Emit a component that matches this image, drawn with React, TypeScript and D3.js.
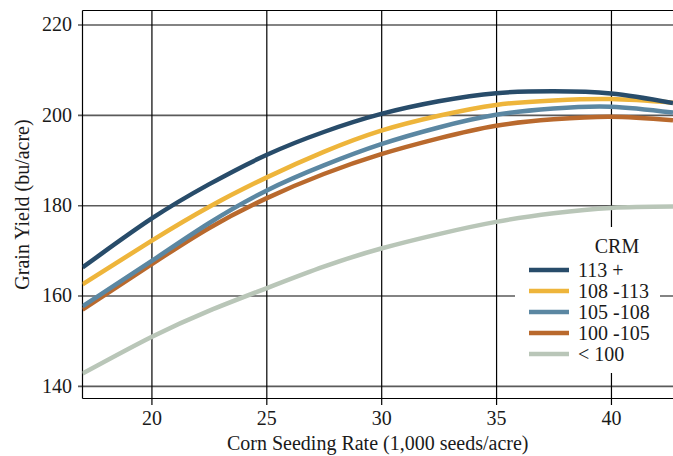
import React, { useRef, useEffect } from "react";
import * as d3 from "d3";

// seeding rate (1,000 seeds/acre) at which the yields were read
const seedRates = [17, 20, 22.5, 25, 27.5, 30, 32.5, 35, 37.5, 40, 42.7];

const crm113plus = [166.2, 177.0, 184.6, 191.1, 196.2, 200.2, 203.0, 204.8, 205.2, 204.7, 202.6];
const crm108to113 = [162.5, 172.1, 179.6, 186.1, 191.8, 196.5, 199.8, 202.2, 203.2, 203.5, 202.7];
const crm105to108 = [157.6, 167.6, 176.0, 183.2, 188.8, 193.5, 197.2, 200.0, 201.4, 201.8, 200.5];
const crm100to105 = [156.9, 166.9, 174.9, 181.5, 186.9, 191.3, 194.8, 197.6, 199.0, 199.6, 198.8];
const crmUnder100 = [142.7, 150.8, 156.6, 161.6, 166.4, 170.4, 173.6, 176.3, 178.2, 179.4, 179.7];

const seriesNames = ["113 +", "108 -113", "105 -108", "100 -105", "< 100"];
const seriesColors = ["#284c6a", "#eeb53b", "#5b87a2", "#b9692d", "#b9c6b8"];

const xTicks = [20, 25, 30, 35, 40];
const yTicks = [140, 160, 180, 200, 220];

const FONT = "'Liberation Serif', 'DejaVu Serif', serif";

const App = () => {
  const svgRef = useRef<SVGSVGElement>(null);

  useEffect(() => {
    const width = 673;
    const height = 456;
    const left = 82.5;
    const right = 673;
    const top = 10.5;
    const bottom = 398.5;

    const svg = d3.select(svgRef.current);
    svg.selectAll("*").remove();

    const x = d3.scaleLinear().domain([17, 42.7]).range([left, right]);
    const y = d3.scaleLinear().domain([137.2, 223.1]).range([bottom, top]);

    svg.append("clipPath").attr("id", "plot-clip")
      .append("rect")
      .attr("x", left).attr("y", top)
      .attr("width", right - left).attr("height", bottom - top);

    // horizontal grid + y labels
    svg.append("g")
      .attr("transform", `translate(${right},0)`)
      .call(d3.axisLeft(y).tickValues(yTicks).tickSize(right - 78).tickPadding(6))
      .call(g => g.select(".domain").remove())
      .call(g => g.selectAll(".tick line").attr("stroke", "#5a5a5a").attr("stroke-width", 1.6))
      .attr("font-family", FONT)
      .attr("font-size", 20)
      .call(g => g.selectAll("text").attr("fill", "#1a1a1a"));

    // vertical grid + x labels
    svg.append("g")
      .attr("transform", `translate(0,${top})`)
      .call(d3.axisBottom(x).tickValues(xTicks).tickSize(405 - top).tickPadding(6))
      .call(g => g.select(".domain").remove())
      .call(g => g.selectAll(".tick line").attr("stroke", "#000").attr("stroke-width", 1.2))
      .attr("font-family", FONT)
      .attr("font-size", 20)
      .call(g => g.selectAll("text").attr("fill", "#1a1a1a"));

    // frame
    const frame = svg.append("g").attr("stroke", "#000").attr("stroke-width", 1.2);
    frame.append("line").attr("x1", left).attr("x2", left).attr("y1", top).attr("y2", bottom);
    frame.append("line").attr("x1", left).attr("x2", right).attr("y1", top).attr("y2", top);
    frame.append("line").attr("x1", left).attr("x2", right).attr("y1", bottom).attr("y2", bottom);

    const allSeries = [crm113plus, crm108to113, crm105to108, crm100to105, crmUnder100];

    const line = d3.line<number>()
      .x((_, i) => x(seedRates[i]))
      .y(d => y(d))
      .curve(d3.curveNatural);

    svg.append("g")
      .attr("clip-path", "url(#plot-clip)")
      .selectAll("path")
      .data(allSeries.map((values, i) => ({ values, i })).reverse())
      .join("path")
      .attr("fill", "none")
      .attr("stroke", d => seriesColors[d.i])
      .attr("stroke-width", 4.5)
      .attr("d", d => line(d.values));

    // legend
    const legend = svg.append("g");
    legend.append("rect")
      .attr("x", 515).attr("y", 227)
      .attr("width", 145).attr("height", 146)
      .attr("fill", "#fff");
    legend.append("text")
      .attr("x", 617).attr("y", 253)
      .attr("text-anchor", "middle")
      .attr("font-family", FONT).attr("font-size", 20)
      .attr("fill", "#1a1a1a")
      .text("CRM");
    const items = legend.selectAll("g.item")
      .data(seriesNames)
      .join("g")
      .attr("class", "item")
      .attr("transform", (_, i) => `translate(0,${270 + i * 21})`);
    items.append("line")
      .attr("x1", 529).attr("x2", 569)
      .attr("stroke", (_, i) => seriesColors[i])
      .attr("stroke-width", 4.5);
    items.append("text")
      .attr("x", 578).attr("dy", "0.33em")
      .attr("font-family", FONT).attr("font-size", 20)
      .attr("fill", "#1a1a1a")
      .text(d => d);

    // axis titles
    svg.append("text")
      .attr("x", (left + right) / 2).attr("y", 450)
      .attr("text-anchor", "middle")
      .attr("font-family", FONT).attr("font-size", 20)
      .attr("fill", "#1a1a1a")
      .text("Corn Seeding Rate (1,000 seeds/acre)");
    svg.append("text")
      .attr("transform", `translate(29,${(top + bottom) / 2}) rotate(-90)`)
      .attr("text-anchor", "middle")
      .attr("font-family", FONT).attr("font-size", 20)
      .attr("fill", "#1a1a1a")
      .text("Grain Yield (bu/acre)");

    svg.attr("width", width).attr("height", height);
  }, []);

  return (
    <svg
      ref={svgRef}
      width={673}
      height={456}
      style={{ position: "absolute", left: 0, top: 0, background: "#fff" }}
    />
  );
};

export default App;
